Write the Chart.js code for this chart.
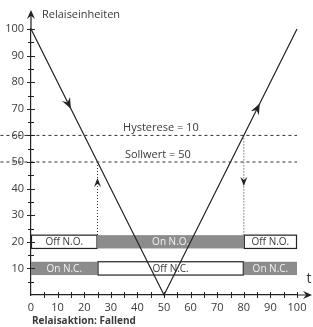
<!DOCTYPE html>
<html>
<head>
<meta charset="utf-8">
<script src="https://cdn.jsdelivr.net/npm/chart.js@4.4.1/dist/chart.umd.min.js"></script>
<style>
  html, body { margin: 0; padding: 0; background: #fff; }
  #wrap { width: 313px; height: 327px; }
</style>
</head>
<body>
<div id="wrap"><canvas id="relaisChart"></canvas></div>
<script>
// relay curve: t -> Relaiseinheiten
const tValues = [0, 50, 100];
const relayValues = [100, 0, 100];
const hysterese = 60;      // Sollwert + Hysterese
const sollwert = 50;
const switchOnT = 25;      // Sollwert reached (falling)
const switchOffT = 80;     // Sollwert + Hysterese reached (rising)
// relay state bars
const segmentEdges = [0, 25, 80, 100];
const rowNO = ['Off N.O.', 'On N.O.', 'Off N.O.'];
const rowNOActive = [false, true, false];
const rowNC = ['On N.C.', 'Off N.C.', 'On N.C.'];
const rowNCActive = [true, false, true];
const rowNOLevel = 20;
const rowNCLevel = 10;
const rowHalf = 2.5;
const tickStep = 5;

const ink = '#222';
const textCol = '#3a3a3a';
const grey = '#8c8c8c';
const fontName = "'Open Sans', 'DejaVu Sans', sans-serif";

function arrowHead(ctx, x, y, ang, len, half) {
  ctx.save();
  ctx.translate(x, y);
  ctx.rotate(ang);
  ctx.beginPath();
  ctx.moveTo(0, 0);
  ctx.lineTo(-len, -half);
  ctx.lineTo(-len * 0.65, 0);
  ctx.lineTo(-len, half);
  ctx.closePath();
  ctx.fillStyle = ink;
  ctx.fill();
  ctx.restore();
}

const relaisPlugin = {
  id: 'relais',
  beforeDatasetsDraw(chart) {
    const ctx = chart.ctx;
    const xs = chart.scales.x, ys = chart.scales.y;
    const rows = [
      [rowNO, rowNOActive, rowNOLevel],
      [rowNC, rowNCActive, rowNCLevel]
    ];
    ctx.save();
    ctx.font = '10px ' + fontName;
    ctx.textAlign = 'center';
    ctx.textBaseline = 'middle';
    rows.forEach(([labels, active, level]) => {
      const top = ys.getPixelForValue(level + rowHalf);
      const bot = ys.getPixelForValue(level - rowHalf);
      labels.forEach((lab, i) => {
        const x0 = xs.getPixelForValue(segmentEdges[i]);
        const x1 = xs.getPixelForValue(segmentEdges[i + 1]);
        if (active[i]) {
          ctx.fillStyle = grey;
          ctx.fillRect(x0, top, x1 - x0, bot - top);
          ctx.fillStyle = '#f2f2f2';
        } else {
          ctx.fillStyle = '#fff';
          ctx.fillRect(x0, top, x1 - x0, bot - top);
          ctx.strokeStyle = ink;
          ctx.lineWidth = 1.2;
          ctx.strokeRect(x0 + 0.5, top, x1 - x0 - 1, bot - top);
          ctx.fillStyle = textCol;
        }
        ctx.fillText(lab, (x0 + x1) / 2, (top + bot) / 2 + 0.5);
      });
    });
    ctx.restore();
  },
  afterDatasetsDraw(chart) {
    const ctx = chart.ctx;
    const xs = chart.scales.x, ys = chart.scales.y;
    const ca = chart.chartArea;
    const ax = xs.getPixelForValue(0);
    const ay = ys.getPixelForValue(0);
    ctx.save();
    // axis extensions with arrows
    ctx.strokeStyle = ink;
    ctx.lineWidth = 1.2;
    ctx.beginPath();
    ctx.moveTo(ax, ca.top);
    ctx.lineTo(ax, 14);
    ctx.moveTo(ca.right, ay);
    ctx.lineTo(chart.width - 4, ay);
    ctx.stroke();
    arrowHead(ctx, ax, 10, -Math.PI / 2, 9, 4);
    arrowHead(ctx, chart.width - 1, ay, 0, 9, 4);
    // tick marks crossing axes
    ctx.lineWidth = 1;
    ctx.beginPath();
    xs.ticks.forEach(t => {
      if (t.value === 0) return;
      const px = Math.round(xs.getPixelForValue(t.value)) + 0.5;
      ctx.moveTo(px, ay - 3);
      ctx.lineTo(px, ay + 3);
    });
    ys.ticks.forEach(t => {
      if (t.value === 0) return;
      const py = Math.round(ys.getPixelForValue(t.value)) + 0.5;
      const w = t.value % 10 === 0 ? 4 : 3;
      ctx.moveTo(ax - w, py);
      ctx.lineTo(ax + w, py);
    });
    ctx.stroke();
    // arrows on the relay curve
    const curveArrow = (t0, t1, frac) => {
      const i0 = tValues.indexOf(t0), i1 = tValues.indexOf(t1);
      const p0 = [xs.getPixelForValue(t0), ys.getPixelForValue(relayValues[i0])];
      const p1 = [xs.getPixelForValue(t1), ys.getPixelForValue(relayValues[i1])];
      const px = p0[0] + (p1[0] - p0[0]) * frac;
      const py = p0[1] + (p1[1] - p0[1]) * frac;
      arrowHead(ctx, px, py, Math.atan2(p1[1] - p0[1], p1[0] - p0[0]), 11, 4.5);
    };
    curveArrow(0, 50, 0.3);
    curveArrow(50, 100, 0.72);
    // arrows on the dotted switching lines
    arrowHead(ctx, xs.getPixelForValue(switchOnT), ys.getPixelForValue(44), -Math.PI / 2, 9, 3.5);
    arrowHead(ctx, xs.getPixelForValue(switchOffT), ys.getPixelForValue(41), Math.PI / 2, 9, 3.5);
    // texts
    ctx.fillStyle = textCol;
    ctx.textBaseline = 'alphabetic';
    ctx.textAlign = 'left';
    ctx.font = '11px ' + fontName;
    ctx.fillText('Relaiseinheiten', 42, 18);
    ctx.fillText('Hysterese = 10', xs.getPixelForValue(34.6), ys.getPixelForValue(hysterese) - 4);
    ctx.fillText('Sollwert = 50', xs.getPixelForValue(35.3), ys.getPixelForValue(sollwert) - 4);
    ctx.textAlign = 'center';
    ctx.font = '14px ' + fontName;
    ctx.fillText('t', 309, 283);
    ctx.textAlign = 'left';
    ctx.font = 'bold 10px ' + fontName;
    ctx.fillText('Relaisaktion: Fallend', 32, 324);
    ctx.restore();
  }
};

const dashLeft = -11.5;

new Chart(document.getElementById('relaisChart'), {
  type: 'scatter',
  data: {
    datasets: [
      {
        data: [{x: dashLeft, y: hysterese}, {x: 100, y: hysterese}],
        showLine: true, borderColor: '#333', borderWidth: 1, borderDash: [3, 3],
        pointRadius: 0, clip: false
      },
      {
        data: [{x: dashLeft, y: sollwert}, {x: 100, y: sollwert}],
        showLine: true, borderColor: '#333', borderWidth: 1, borderDash: [3, 3],
        pointRadius: 0, clip: false
      },
      {
        data: [{x: switchOnT, y: sollwert}, {x: switchOnT, y: rowNOLevel + rowHalf}],
        showLine: true, borderColor: '#333', borderWidth: 1, borderDash: [1, 2],
        pointRadius: 0, clip: false
      },
      {
        data: [{x: switchOffT, y: hysterese}, {x: switchOffT, y: rowNOLevel + rowHalf}],
        showLine: true, borderColor: '#333', borderWidth: 1, borderDash: [1, 2],
        pointRadius: 0, clip: false
      },
      {
        data: tValues.map((t, i) => ({x: t, y: relayValues[i]})),
        showLine: true, borderColor: ink, borderWidth: 1.2,
        pointRadius: 0, clip: false
      }
    ]
  },
  options: {
    responsive: true,
    maintainAspectRatio: false,
    animation: false,
    layout: { padding: { top: 29, right: 16, left: 0, bottom: 0 } },
    plugins: {
      legend: { display: false },
      tooltip: { enabled: false }
    },
    scales: {
      x: {
        type: 'linear', min: 0, max: 100,
        afterFit: s => { s.height = 32; },
        grid: { display: false, drawTicks: false },
        border: { display: true, color: ink, width: 1.2 },
        ticks: {
          stepSize: tickStep, autoSkip: false, maxRotation: 0, padding: 6,
          color: textCol, font: { size: 11, family: fontName },
          callback: v => (v % 10 === 0 ? v : '')
        }
      },
      y: {
        type: 'linear', min: 0, max: 100,
        afterFit: s => { s.width = 31; },
        grid: { display: false, drawTicks: false },
        border: { display: true, color: ink, width: 1.2 },
        ticks: {
          stepSize: tickStep, autoSkip: false, padding: 7,
          color: textCol, font: { size: 11, family: fontName },
          callback: v => (v % 10 === 0 && v !== 0 ? v : '')
        }
      }
    }
  },
  plugins: [relaisPlugin]
});
</script>
</body>
</html>
